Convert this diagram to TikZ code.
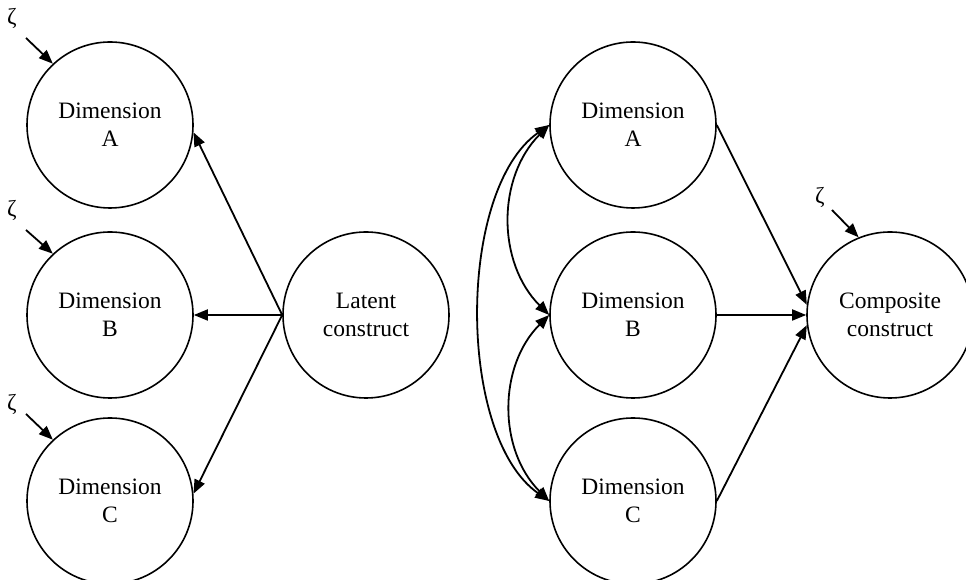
\documentclass[tikz,border=0pt]{standalone}
\usepackage{fontspec}
\setmainfont{Liberation Serif}
\usetikzlibrary{arrows.meta}
\begin{document}
\begin{tikzpicture}[x=1pt,y=1pt,
  dim/.style={circle,draw,line width=1.6pt,minimum size=166pt,inner sep=0pt,align=center,font=\fontsize{23.5}{28}\selectfont},
  zeta/.style={inner sep=0pt,font=\fontsize{23}{28}\selectfont},
  arr/.style={line width=1.8pt,-{Triangle[length=14pt,width=11pt]}},
  darr/.style={line width=1.8pt,{Triangle[length=14pt,width=11pt]}-{Triangle[length=14pt,width=11pt]}}]
\useasboundingbox (0,0) rectangle (966,580);
% left model
\node[dim] (LA) at (110,455) {Dimension\\A};
\node[dim] (LB) at (110,265) {Dimension\\B};
\node[dim] (LC) at (110,79) {Dimension\\C};
\node[dim] (Lat) at (366,265) {Latent\\construct};
\node[zeta] (zA) at (12,562) {ζ};
\node[zeta] (zB) at (12,370) {ζ};
\node[zeta] (zC) at (12,176) {ζ};
\draw[arr] ([xshift=14pt,yshift=-20pt]zA.center) -- (LA.133);
\draw[arr] ([xshift=14pt,yshift=-20pt]zB.center) -- (LB.133);
\draw[arr] ([xshift=14pt,yshift=-10pt]zC.center) -- (LC.133);
\draw[arr] (Lat.west) -- (LA.-5);
\draw[arr] (Lat.west) -- (LB.east);
\draw[arr] (Lat.west) -- (LC.5);
% right model
\node[dim] (RA) at (633,455) {Dimension\\A};
\node[dim] (RB) at (633,265) {Dimension\\B};
\node[dim] (RC) at (633,79) {Dimension\\C};
\node[dim] (Cmp) at (890,265) {Composite\\construct};
\node[zeta] (zD) at (820,383) {ζ};
\draw[arr] ([xshift=12pt,yshift=-13pt]zD.center) -- (Cmp.112);
\draw[arr] (RA.east) -- (Cmp.173);
\draw[arr] (RB.east) -- (Cmp.west);
\draw[arr] (RC.east) -- (Cmp.187);
\draw[darr] (RA.west) to[out=225,in=135] (RB.west);
\draw[darr] (RB.west) to[out=225,in=135] (RC.west);
\draw[darr] (RA.west) to[out=215,in=145,looseness=0.77] (RC.west);
\end{tikzpicture}
\end{document}
